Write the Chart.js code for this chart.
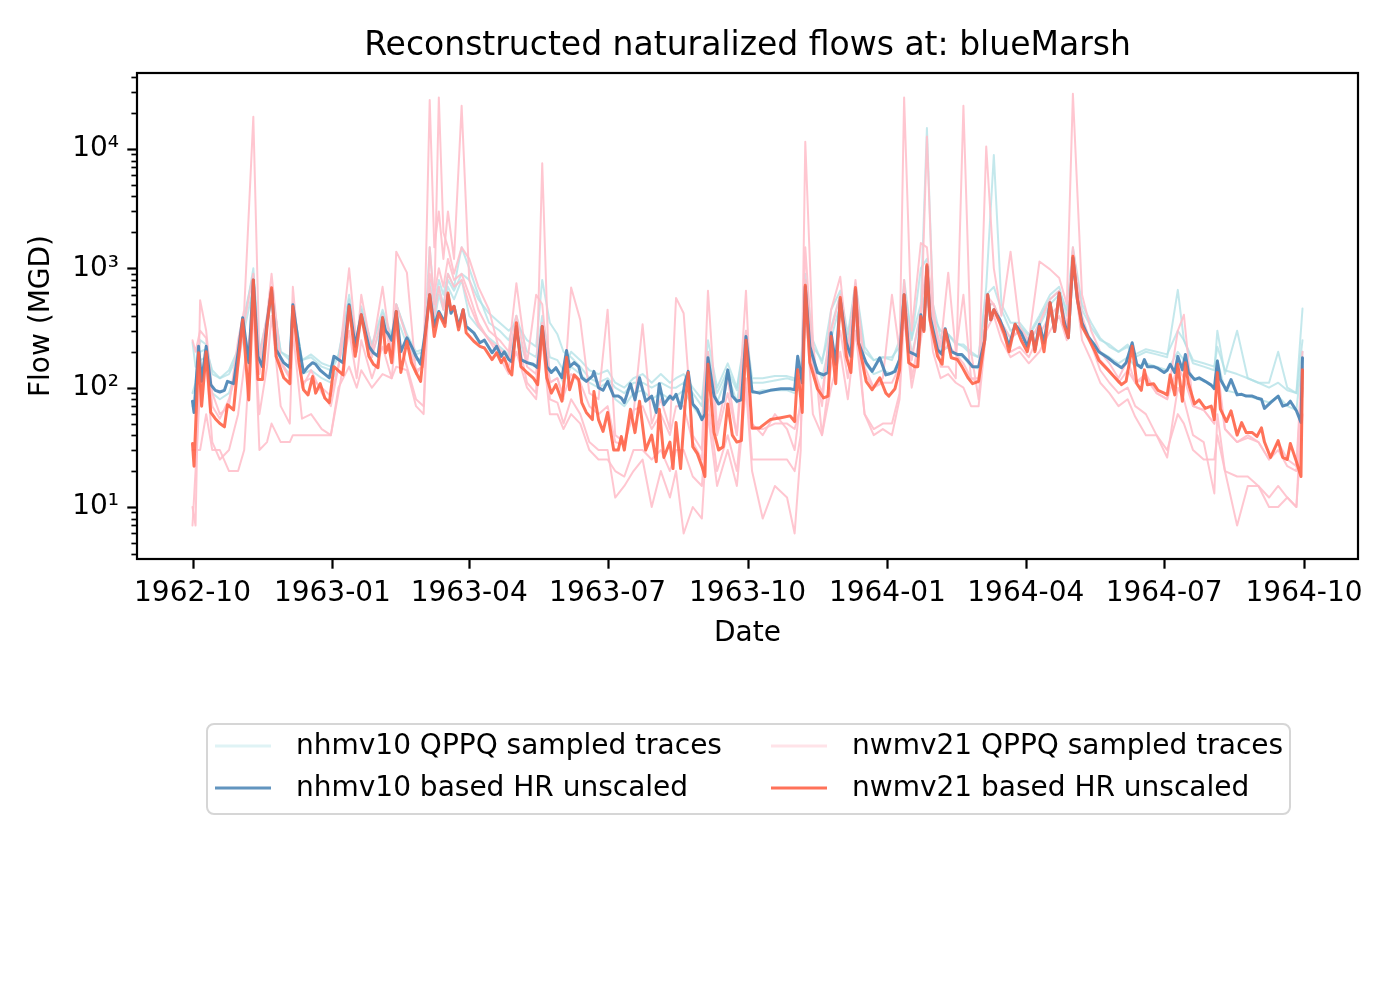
<!DOCTYPE html>
<html>
<head>
<meta charset="utf-8">
<script src="https://cdn.jsdelivr.net/npm/chart.js@4.4.1/dist/chart.umd.min.js"></script>
<style>
  html, body { margin: 0; padding: 0; background: #fff; }
  canvas { display: block; }
</style>
</head>
<body>
<canvas id="c" width="1400" height="1000"></canvas>
<script>
// days counted from 1962-10-01
const hrDays = [
  0, 1, 4, 6, 9, 12, 15, 18, 21, 23, 27, 30, 33, 37, 40, 43, 46, 49, 52, 55,
  60, 64, 66, 70, 73, 76, 79, 81, 84, 87, 90, 93, 99, 103, 107, 111, 116, 119, 122, 125,
  127, 129, 131, 134, 137, 141, 144, 147, 150, 153, 156, 159, 162, 166, 168, 170, 172, 175, 178, 180,
  185, 189, 192, 197, 200, 203, 205, 208, 210, 213, 216, 220, 224, 227, 230, 233, 236, 239, 243, 246,
  248, 251, 254, 256, 259, 263, 264, 267, 270, 273, 277, 280, 282, 284, 288, 291, 294, 298, 302, 305,
  307, 310, 314, 316, 318, 321, 324, 326, 329, 332, 335, 337, 339, 343, 346, 349, 352, 355, 358, 361,
  364, 368, 373, 380, 387, 393, 396, 398, 401, 403, 406, 411, 415, 418, 420, 423, 426, 430, 433, 436,
  438, 443, 447, 452, 456, 458, 462, 465, 468, 471, 475, 477, 479, 481, 483, 485, 490, 493, 495, 499,
  503, 506, 510, 513, 517, 521, 523, 525, 527, 531, 534, 537, 541, 545, 549, 552, 554, 557, 560, 564,
  567, 570, 573, 576, 579, 582, 585, 589, 593, 596, 602, 606, 611, 614, 618, 621, 624, 626, 628, 632,
  635, 639, 641, 643, 646, 648, 651, 653, 655, 659, 662, 666, 670, 672, 674, 676, 680, 683, 687, 690,
  693, 697, 700, 703, 705, 709, 714, 717, 720, 722, 726, 729, 730
];
const nhmHR = [
  77, 62, 222, 113, 222, 106, 95, 92, 95, 113, 108, 196, 385, 162, 800, 183, 150, 350, 660, 208,
  162, 147, 495, 222, 134, 150, 162, 157, 140, 130, 121, 183, 162, 495, 222, 408, 222, 196, 183, 385,
  300, 278, 250, 435, 200, 262, 222, 183, 157, 288, 600, 326, 435, 350, 600, 420, 480, 326, 450, 326,
  288, 238, 250, 196, 222, 183, 200, 172, 165, 326, 172, 162, 157, 147, 326, 150, 134, 147, 121, 205,
  150, 162, 150, 121, 113, 125, 137, 100, 95, 113, 85, 85, 82, 75, 108, 79, 121, 77, 85, 62,
  108, 72, 85, 80, 88, 67, 113, 137, 73, 66, 54, 60, 178, 85, 73, 77, 141, 85, 77, 79,
  268, 93, 90, 95, 98, 98, 96, 183, 110, 700, 222, 134, 128, 134, 288, 157, 545, 238, 183, 660,
  238, 162, 137, 178, 128, 130, 137, 172, 600, 200, 190, 183, 408, 305, 1035, 395, 208, 190, 312, 200,
  190, 190, 167, 150, 150, 250, 600, 370, 450, 370, 296, 222, 340, 288, 222, 296, 208, 340, 238, 514,
  296, 620, 370, 262, 1220, 545, 350, 268, 230, 200, 178, 162, 147, 162, 238, 157, 147, 172, 150, 150,
  145, 134, 140, 157, 134, 183, 141, 190, 134, 117, 121, 113, 105, 98, 167, 117, 95, 117, 87, 88,
  85, 85, 82, 80, 67, 75, 85, 70, 72, 77, 64, 51, 178
];
const nwmHR = [
  34, 22, 196, 70, 200, 62, 55, 50, 47, 72, 65, 162, 370, 79, 800, 117, 117, 326, 688, 183,
  121, 108, 480, 162, 96, 87, 124, 90, 108, 82, 75, 150, 128, 480, 183, 408, 183, 157, 147, 385,
  196, 230, 162, 435, 134, 245, 162, 134, 113, 268, 600, 268, 420, 326, 620, 450, 480, 305, 450, 288,
  245, 222, 215, 172, 196, 162, 178, 140, 128, 350, 150, 134, 121, 106, 326, 121, 90, 106, 77, 180,
  96, 128, 117, 75, 62, 54, 93, 54, 43, 62, 30, 30, 39, 30, 66, 42, 77, 30, 40, 24,
  66, 26, 35, 21, 51, 21, 73, 134, 32, 28, 22, 18, 157, 42, 30, 32, 73, 40, 35, 36,
  250, 46, 46, 54, 56, 58, 52, 141, 62, 720, 162, 98, 82, 85, 268, 108, 570, 183, 134, 690,
  238, 113, 96, 121, 90, 85, 98, 141, 600, 162, 150, 150, 395, 296, 1070, 370, 183, 157, 305, 178,
  172, 150, 121, 108, 113, 250, 600, 370, 450, 350, 280, 200, 340, 250, 200, 296, 200, 326, 200, 514,
  296, 620, 340, 262, 1260, 545, 326, 262, 208, 170, 141, 124, 106, 113, 222, 108, 95, 141, 106, 108,
  95, 90, 87, 128, 87, 157, 77, 162, 108, 73, 79, 67, 70, 54, 134, 66, 52, 64, 40, 51,
  42, 42, 39, 46, 35, 26, 36, 26, 25, 34, 24, 18, 141
];

const traceDays = [
  0, 2, 5, 9, 13, 18, 24, 30, 34, 40,
  44, 49, 52, 58, 64, 66, 72, 78, 85, 91,
  96, 103, 108, 111, 118, 125, 131, 134, 141, 147,
  152, 156, 159, 162, 165, 168, 172, 177, 182, 188,
  195, 202, 208, 213, 220, 226, 230, 235, 240, 244,
  249, 255, 261, 267, 273, 278, 284, 290, 296, 302,
  308, 314, 318, 323, 329, 335, 339, 345, 352, 358,
  364, 368, 375, 383, 391, 396, 400, 403, 408, 414,
  420, 426, 431, 436, 442, 448, 454, 460, 465, 468,
  473, 479, 483, 487, 492, 497, 502, 507, 512, 517,
  522, 527, 532, 538, 544, 550, 557, 564, 570, 575,
  579, 585, 591, 597, 603, 609, 615, 620, 627, 634,
  641, 648, 652, 658, 665, 672, 674, 679, 687, 694,
  701, 708, 714, 720, 726, 730
];
const nhmTraces = [
  [
    90, 110, 250, 230, 130, 120, 140, 210, 400, 900,
    200, 380, 700, 200, 170, 500, 170, 190, 160, 150,
    190, 550, 250, 450, 230, 450, 270, 500, 280, 200,
    210, 1500, 500, 800, 600, 900, 700, 1500, 1000, 600,
    350, 300, 250, 400, 200, 180, 400, 180, 170, 140,
    200, 170, 140, 130, 140, 110, 100, 120, 130, 110,
    130, 110, 120, 130, 100, 80, 250, 100, 160, 100,
    300, 120, 120, 125, 125, 120, 130, 800, 220, 170,
    320, 600, 250, 700, 200, 170, 180, 170, 250, 800,
    260, 500, 15000, 500, 260, 280, 230, 230, 200, 180,
    700, 8900, 500, 350, 350, 280, 400, 600, 700, 400,
    1400, 450, 320, 250, 230, 200, 220, 180, 200, 190,
    180, 660, 250, 160, 150, 140, 300, 130, 300, 120,
    110, 110, 200, 100, 90, 460
  ],
  [
    70, 75, 170, 180, 90, 80, 90, 160, 300, 700,
    160, 300, 600, 160, 130, 400, 130, 140, 120, 110,
    150, 450, 200, 380, 190, 350, 220, 400, 230, 170,
    180, 700, 350, 600, 450, 700, 550, 800, 400, 320,
    260, 220, 190, 300, 160, 150, 300, 140, 140, 110,
    150, 130, 110, 100, 110, 80, 70, 90, 95, 80,
    90, 80, 85, 95, 70, 55, 180, 75, 130, 75,
    250, 90, 95, 95, 95, 90, 100, 650, 170, 120,
    260, 500, 200, 600, 160, 130, 140, 130, 170, 600,
    190, 400, 1000, 350, 200, 220, 190, 180, 150, 145,
    500, 500, 350, 260, 300, 240, 330, 500, 600, 300,
    1200, 350, 250, 200, 180, 160, 180, 150, 160, 150,
    140, 200, 170, 120, 115, 100, 170, 95, 90, 85,
    80, 75, 85, 70, 65, 200
  ],
  [
    240, 150, 200, 210, 140, 120, 130, 190, 350, 1000,
    190, 360, 650, 200, 180, 520, 170, 180, 150, 140,
    180, 600, 240, 480, 220, 420, 260, 500, 270, 190,
    200, 800, 450, 700, 500, 800, 650, 900, 800, 550,
    420, 350, 300, 350, 250, 220, 800, 350, 280, 200,
    180, 150, 120, 110, 120, 100, 90, 110, 110, 100,
    110, 100, 100, 110, 90, 70, 200, 90, 140, 95,
    280, 110, 110, 115, 120, 115, 120, 900, 250, 160,
    450, 650, 280, 750, 220, 170, 180, 180, 220, 700,
    250, 1000, 1200, 400, 300, 280, 240, 220, 190, 180,
    600, 700, 450, 300, 330, 270, 380, 550, 650, 450,
    1500, 500, 350, 260, 220, 200, 230, 190, 210, 200,
    190, 300, 250, 170, 160, 150, 220, 140, 130, 120,
    110, 100, 110, 95, 90, 250
  ]
];
const nwmTraces = [
  [
    10, 7, 540, 300, 90, 60, 70, 250, 450, 18600,
    180, 400, 900, 160, 120, 700, 100, 140, 90, 70,
    150, 1000, 220, 600, 200, 700, 190, 1380, 920, 130,
    160, 25700, 1500, 3000, 1200, 3000, 1200, 23000, 800, 450,
    300, 250, 200, 750, 160, 600, 500, 110, 120, 80,
    690, 370, 90, 80, 450, 40, 35, 60, 340, 50,
    80, 45, 565, 420, 40, 30, 650, 45, 120, 40,
    650, 50, 40, 60, 45, 30, 80, 1500, 160, 70,
    450, 850, 200, 800, 150, 100, 120, 600, 200, 27000,
    300, 1630, 1500, 400, 220, 920, 200, 600, 120, 110,
    10500, 1000, 400, 1380, 320, 250, 1140, 980, 830, 500,
    29000, 600, 300, 200, 160, 120, 170, 110, 130, 90,
    80, 300, 408, 70, 65, 50, 150, 45, 35, 40,
    35, 25, 35, 25, 22, 200
  ],
  [
    7, 20, 100, 160, 35, 25, 30, 60, 150, 400,
    60, 150, 400, 70, 50, 300, 55, 60, 45, 40,
    90, 300, 120, 250, 120, 220, 120, 300, 150, 80,
    70, 1500, 500, 27000, 2000, 1500, 900, 1500, 1200, 700,
    450, 200, 150, 300, 110, 90, 7600, 80, 75, 50,
    80, 60, 35, 30, 30, 12, 15, 20, 25, 10,
    20, 12, 20, 6, 10, 8, 60, 15, 30, 15,
    100, 20, 8, 15, 12, 6, 30, 11500, 250, 40,
    150, 300, 120, 400, 60, 45, 50, 50, 90, 800,
    120, 300, 12700, 500, 150, 150, 120, 23000, 200, 80,
    600, 500, 300, 200, 220, 180, 280, 400, 500, 300,
    1500, 400, 230, 140, 110, 90, 100, 70, 60, 40,
    26, 100, 80, 40, 35, 13, 60, 20, 7, 15,
    15, 10, 10, 12, 10, 100
  ],
  [
    30, 30, 30, 60, 30, 30, 20, 20, 30, 600,
    30, 35, 50, 35, 35, 40, 40, 40, 40, 40,
    100, 150, 100, 140, 100, 130, 120, 150, 140, 70,
    60, 900, 600, 1000, 700, 1200, 800, 900, 600, 350,
    250, 180, 130, 200, 100, 80, 250, 60, 60, 45,
    60, 50, 30, 25, 25, 20, 18, 30, 30, 25,
    30, 20, 30, 30, 18, 15, 80, 20, 40, 20,
    120, 25, 25, 25, 25, 20, 40, 500, 60, 40,
    100, 200, 80, 300, 60, 40, 45, 40, 80, 400,
    100, 250, 600, 200, 120, 130, 110, 100, 70, 70,
    300, 400, 250, 180, 200, 160, 200, 300, 400, 250,
    1000, 250, 170, 110, 90, 70, 80, 57, 40, 40,
    30, 60, 50, 30, 25, 25, 40, 20, 18, 18,
    15, 12, 15, 12, 10, 60
  ],
  [
    250, 200, 300, 260, 70, 55, 80, 150, 350, 900,
    130, 350, 700, 170, 120, 450, 110, 120, 100, 85,
    150, 500, 200, 420, 180, 400, 180, 500, 260, 140,
    150, 700, 400, 700, 450, 900, 700, 800, 500, 330,
    250, 210, 180, 400, 150, 130, 350, 110, 120, 85,
    130, 110, 70, 60, 70, 35, 33, 65, 70, 45,
    60, 40, 70, 70, 35, 25, 200, 40, 90, 40,
    300, 45, 45, 50, 50, 45, 70, 800, 150, 90,
    300, 600, 180, 700, 130, 100, 110, 110, 150, 700,
    170, 450, 1100, 300, 190, 230, 190, 160, 120, 120,
    500, 500, 350, 260, 300, 230, 350, 550, 650, 320,
    1300, 350, 240, 170, 140, 110, 140, 110, 120, 90,
    80, 150, 120, 70, 65, 50, 120, 45, 35, 38,
    35, 25, 30, 22, 20, 150
  ]
];

const xTickDays = [0, 92, 182, 273, 365, 457, 548, 639, 731];
const xTickLabels = ['1962-10', '1963-01', '1963-04', '1963-07', '1963-10', '1964-01', '1964-04', '1964-07', '1964-10'];
const yMajorTicks = [10, 100, 1000, 10000];
const yMajorLabels = ['10\u00b9', '10\u00b2', '10\u00b3', '10\u2074'];

const FONT = '"DejaVu Sans", "Liberation Sans", sans-serif';
const TEAL = 'rgba(176, 224, 230, 0.75)';
const PINK = 'rgba(255, 192, 203, 0.9)';
const BLUE = 'rgba(70, 130, 180, 0.9)';
const RED = 'rgba(255, 99, 71, 0.9)';

const Y_MIN = 3.666, Y_MAX = 43350;

const pts = (days, vals) => vals.map((v, i) => ({ x: days[i], y: v }));

// index 0 is drawn on top in Chart.js
const datasets = [
  { label: 'nwmv21 based HR unscaled', data: pts(hrDays, nwmHR), borderColor: RED, borderWidth: 3 },
  { label: 'nhmv10 based HR unscaled', data: pts(hrDays, nhmHR), borderColor: BLUE, borderWidth: 3 }
];
nwmTraces.forEach(t => datasets.push({ label: 'nwmv21 QPPQ sampled traces', data: pts(traceDays, t), borderColor: PINK, borderWidth: 2 }));
nhmTraces.forEach(t => datasets.push({ label: 'nhmv10 QPPQ sampled traces', data: pts(traceDays, t), borderColor: TEAL, borderWidth: 2 }));

const yTickValues = [];
for (let p = 0; p <= 4; p++) {
  for (let m = 1; m <= 9; m++) {
    const v = m * Math.pow(10, p);
    if (v >= Y_MIN && v <= Y_MAX) yTickValues.push(v);
  }
}

const legendItems = [
  { text: 'nhmv10 QPPQ sampled traces', color: 'rgba(176, 224, 230, 0.4)', x: 215, y: 747 },
  { text: 'nhmv10 based HR unscaled', color: 'rgba(70, 130, 180, 0.85)', x: 215, y: 789 },
  { text: 'nwmv21 QPPQ sampled traces', color: 'rgba(255, 192, 203, 0.45)', x: 771, y: 747 },
  { text: 'nwmv21 based HR unscaled', color: 'rgba(255, 99, 71, 0.9)', x: 771, y: 789 }
];

const decorPlugin = {
  id: 'decor',
  afterDraw(chart) {
    const { ctx, chartArea: a, scales } = chart;
    ctx.save();
    // tick marks
    ctx.strokeStyle = '#000';
    ctx.lineWidth = 2.2;
    xTickDays.forEach(d => {
      const px = Math.round(scales.x.getPixelForValue(d)) + 0.5;
      ctx.beginPath(); ctx.moveTo(px, a.bottom); ctx.lineTo(px, a.bottom + 9.7); ctx.stroke();
    });
    yTickValues.forEach(v => {
      const major = yMajorTicks.includes(v);
      const py = Math.round(scales.y.getPixelForValue(v)) + 0.5;
      ctx.lineWidth = major ? 2.2 : 1.7;
      ctx.beginPath(); ctx.moveTo(a.left, py); ctx.lineTo(a.left - (major ? 9.7 : 5.6), py); ctx.stroke();
    });
    // frame
    ctx.lineWidth = 2.2;
    ctx.strokeRect(a.left, a.top, a.right - a.left, a.bottom - a.top);

    // title
    ctx.fillStyle = '#000';
    ctx.font = '33px ' + FONT;
    ctx.textAlign = 'center';
    ctx.textBaseline = 'middle';
    ctx.fillText('Reconstructed naturalized flows at: blueMarsh', (a.left + a.right) / 2, 46);

    // legend
    const bx = 207, by = 724, bw = 1083, bh = 90, r = 7;
    ctx.beginPath();
    ctx.moveTo(bx + r, by);
    ctx.arcTo(bx + bw, by, bx + bw, by + bh, r);
    ctx.arcTo(bx + bw, by + bh, bx, by + bh, r);
    ctx.arcTo(bx, by + bh, bx, by, r);
    ctx.arcTo(bx, by, bx + bw, by, r);
    ctx.closePath();
    ctx.fillStyle = 'rgba(255,255,255,0.8)';
    ctx.fill();
    ctx.strokeStyle = '#d6d6d6';
    ctx.lineWidth = 2;
    ctx.stroke();

    ctx.font = '28px ' + FONT;
    ctx.textAlign = 'left';
    legendItems.forEach(it => {
      ctx.strokeStyle = it.color;
      ctx.lineWidth = 3;
      ctx.beginPath(); ctx.moveTo(it.x, it.y - 1); ctx.lineTo(it.x + 56, it.y - 1); ctx.stroke();
      ctx.fillStyle = '#000';
      ctx.fillText(it.text, it.x + 81, it.y);
    });
    ctx.restore();
  }
};

new Chart(document.getElementById('c'), {
  type: 'line',
  data: { datasets },
  options: {
    responsive: false,
    animation: false,
    devicePixelRatio: 1,
    layout: { padding: { top: 73, right: 42, bottom: 341, left: 0 } },
    elements: { point: { radius: 0 }, line: { tension: 0, borderJoinStyle: 'round', borderCapStyle: 'round' } },
    plugins: { legend: { display: false }, tooltip: { enabled: false }, title: { display: false } },
    scales: {
      x: {
        type: 'linear',
        min: -36.5,
        max: 766.5,
        afterBuildTicks: s => { s.ticks = xTickDays.map(v => ({ value: v })); },
        afterFit: s => { s.height = 100; },
        grid: { display: false, drawTicks: false },
        border: { display: false },
        ticks: {
          autoSkip: false,
          maxRotation: 0,
          padding: 18,
          color: '#000',
          font: { family: FONT, size: 28 },
          callback: v => xTickLabels[xTickDays.indexOf(v)] || ''
        },
        title: { display: true, text: 'Date', color: '#000', font: { family: FONT, size: 28 }, padding: { top: 0, bottom: 8 } }
      },
      y: {
        type: 'logarithmic',
        min: Y_MIN,
        max: Y_MAX,
        afterBuildTicks: s => { s.ticks = yTickValues.map(v => ({ value: v, major: yMajorTicks.includes(v) })); },
        afterFit: s => { s.width = 137; },
        grid: { display: false, drawTicks: false },
        border: { display: false },
        ticks: {
          autoSkip: false,
          padding: 18,
          color: '#000',
          font: { family: FONT, size: 28 },
          callback: v => {
            const i = yMajorTicks.indexOf(v);
            return i >= 0 ? yMajorLabels[i] : '';
          }
        },
        title: { display: true, text: 'Flow (MGD)', color: '#000', font: { family: FONT, size: 28 }, padding: { top: 25, bottom: 0 } }
      }
    }
  },
  plugins: [decorPlugin]
});
</script>
</body>
</html>
